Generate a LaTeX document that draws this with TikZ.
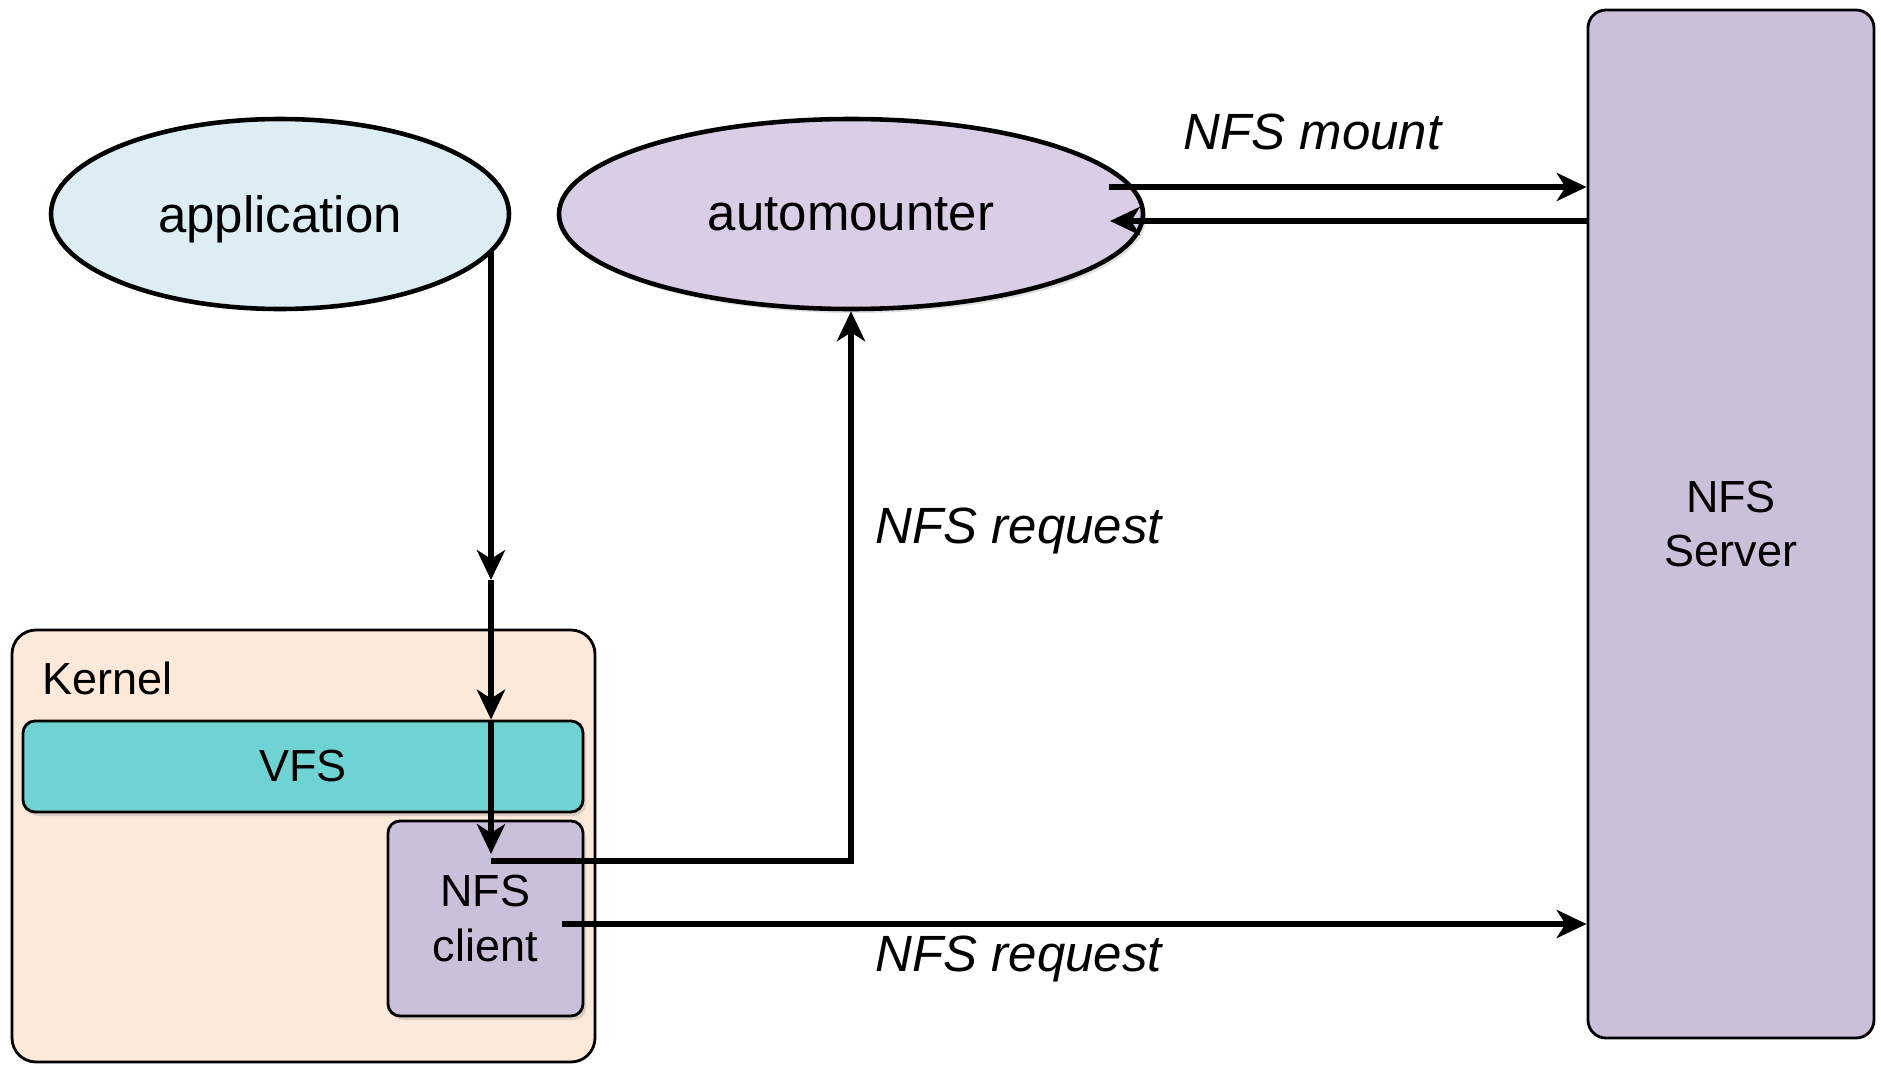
\documentclass[tikz,border=0pt]{standalone}
\usepackage{fontspec}
\setmainfont{Liberation Sans}
\usetikzlibrary{shapes.geometric,arrows.meta,shadows}

\definecolor{appblue}{HTML}{DCEEF4}
\definecolor{mountlilac}{HTML}{DACDE6}
\definecolor{nfslilac}{HTML}{CAC0DA}
\definecolor{kernpeach}{HTML}{FCE9DA}
\definecolor{vfsteal}{HTML}{70D3D3}

\begin{document}
\begin{tikzpicture}[>={Stealth[length=8.5pt,width=8pt,inset=2.5pt]},
    proc/.style={ellipse,draw,line width=1.3pt,inner sep=0pt,minimum height=1.9cm,text depth=0pt,font=\fontsize{14.5}{17}\selectfont},
    box/.style={draw,line width=0.8pt,inner sep=0pt,align=center,font=\fontsize{12.8}{15.5}\selectfont},
    soft/.style={drop shadow={shadow xshift=0.03cm,shadow yshift=-0.04cm,opacity=0.25}},
    flow/.style={->,line width=1.5pt},
    lbl/.style={anchor=west,inner sep=0pt,font=\fontsize{14.5}{17}\selectfont\itshape}]
    \useasboundingbox (0,0) rectangle (18.81,-10.65);

    % user space
    \node[proc,fill=appblue,minimum width=4.58cm] (app) at (2.80,-2.14) {application};
    \node[proc,fill=mountlilac,minimum width=5.84cm,soft] (auto) at (8.51,-2.14) {automounter};

    % remote side
    \node[box,fill=nfslilac,rounded corners=0.18cm,minimum width=2.86cm,minimum height=10.28cm] (server) at (17.31,-5.24) {NFS\\Server};

    % kernel and its layers
    \node[box,fill=kernpeach,rounded corners=0.24cm,minimum width=5.83cm,minimum height=4.32cm] (kernel) at (3.035,-8.46) {};
    \node[box,draw=none,anchor=west] (klabel) at (0.41,-6.78) {Kernel};
    \node[box,fill=vfsteal,rounded corners=0.12cm,minimum width=5.60cm,minimum height=0.91cm,soft] (vfs) at (3.03,-7.665) {VFS};
    \node[box,fill=nfslilac,rounded corners=0.12cm,minimum width=1.95cm,minimum height=1.95cm,soft] (client) at (4.855,-9.185) {NFS\\client};

    \coordinate (d0) at (4.91,-5.80);
    \coordinate (d2) at (4.91,-8.54);
    \coordinate (req) at (4.91,-8.61);
    \coordinate (m1) at (11.09,-1.87);
    \coordinate (m2) at (11.10,-2.21);
    \coordinate (c1) at (5.62,-9.24);

    % system call path down into the kernel
    \draw[flow] (d0 |- app.-10) -- (d0);
    \draw[flow] (d0) -- (d0 |- vfs.north);
    \draw[flow] (d0 |- vfs.north) -- (d2);

    % upcall to the automounter
    \draw[flow] (req) -| (auto.south);
    \node[lbl] (upreq) at (8.75,-5.31) {NFS request};

    % mount exchange
    \draw[flow] (m1) -- (m1 -| server.west);
    \draw[flow] (m2 -| server.west) -- (m2);
    \node[lbl] (mnt) at (11.83,-1.32) {NFS mount};

    % request to the server
    \draw[flow] (c1) -- (c1 -| server.west);
    \node[lbl] (srvreq) at (8.75,-9.59) {NFS request};
\end{tikzpicture}
\end{document}
